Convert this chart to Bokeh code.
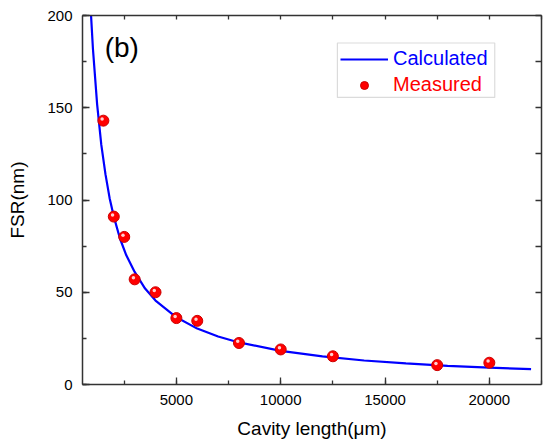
from bokeh.plotting import figure
from bokeh.models import (LinearAxis, SingleIntervalTicker, FixedTicker, Range1d, Legend, LegendItem,
                          BoxAnnotation, Label, ColumnDataSource)
from bokeh.transform import dodge
from bokeh.embed import file_html
from bokeh.resources import INLINE

# Calculated curve
calc_len = [900, 1000, 1200, 1400, 1600, 1800, 2000, 2300, 2600, 3000, 3500, 4000,
            5000, 6000, 7000, 8000, 10000, 12000, 14000, 16000, 18000, 20000, 22000]
calc_fsr = [202, 182, 152, 130, 114, 101, 91, 79, 70, 61, 52, 45.5,
            36.4, 30.3, 26, 22.8, 18.2, 15.2, 13, 11.4, 10.1, 9.1, 8.3]

# Measured points
meas_len = [1500, 2000, 2500, 3000, 4000, 5000, 6000, 8000, 10000, 12500, 17500, 20000]
meas_fsr = [143, 91, 80, 57, 50, 36, 34.5, 22.5, 19, 15.3, 10.5, 11.8]

x_lo, x_hi = 500, 22500
y_lo, y_hi = 0, 200
x_step = 5000
y_step = 50

FONT = "Liberation Sans"
AX = "#333333"

p = figure(frame_width=459, frame_height=369, output_backend="svg", toolbar_location=None,
           x_range=Range1d(x_lo, x_hi), y_range=Range1d(y_lo, y_hi),
           x_axis_type=None, y_axis_type=None,
           min_border_left=82, min_border_right=2, min_border_top=15, min_border_bottom=50)
p.outline_line_color = None
p.xgrid.visible = False
p.ygrid.visible = False
p.background_fill_color = "white"
p.border_fill_color = "white"

xt = SingleIntervalTicker(interval=x_step, num_minor_ticks=2)
yt = SingleIntervalTicker(interval=y_step, num_minor_ticks=2)
xt_top = FixedTicker(ticks=[], minor_ticks=list(range(x_lo + 2000, x_hi + 1, x_step // 2)))
yt_right = FixedTicker(ticks=[], minor_ticks=list(range(y_lo + y_step // 2, y_hi + 1, y_step // 2)))

def style(ax, maj=7, mnr=4):
    ax.axis_line_color = AX
    ax.axis_line_width = 1.5
    ax.major_tick_line_color = AX
    ax.minor_tick_line_color = AX
    ax.major_tick_line_width = 1.3
    ax.minor_tick_line_width = 1.3
    ax.major_tick_in = maj
    ax.major_tick_out = 0
    ax.minor_tick_in = mnr
    ax.minor_tick_out = 0
    ax.major_label_text_font = FONT
    ax.major_label_text_font_size = "15px"
    ax.major_label_text_color = "black"
    ax.axis_label_text_font = FONT
    ax.axis_label_text_font_size = "19px"
    ax.axis_label_text_font_style = "normal"
    ax.axis_label_text_color = "black"

xb = LinearAxis(ticker=xt, axis_label="Cavity length(\u03bcm)")
style(xb)
xb.major_label_standoff = 10
xb.axis_label_standoff = 10
p.add_layout(xb, "below")

yl = LinearAxis(ticker=yt, axis_label="FSR(nm)")
style(yl)
yl.major_label_standoff = 10
yl.axis_label_standoff = 16
p.add_layout(yl, "left")

xa = LinearAxis(ticker=xt_top)
style(xa, maj=4, mnr=4)
xa.major_label_standoff = 0
p.add_layout(xa, "above")

yr = LinearAxis(ticker=yt_right)
style(yr, maj=6, mnr=6)
yr.major_label_standoff = 0
p.add_layout(yr, "right")

src_c = ColumnDataSource(dict(x=calc_len, y=calc_fsr))
src_m = ColumnDataSource(dict(x=meas_len, y=meas_fsr))

line = p.line("x", "y", source=src_c, line_color="#0000ff", line_width=2.2)
pts = p.scatter("x", "y", source=src_m, marker="circle", size=11,
                fill_color="#ff0000", line_color="#cc0000", line_width=1)
p.scatter(dodge("x", -60, range=p.x_range), dodge("y", 0.9, range=p.y_range),
          source=src_m, marker="circle", size=3.5, fill_color="#ffd0d0", line_color=None)

# legend box
p.add_layout(BoxAnnotation(left=12718, right=20259, bottom=155.6, top=185.1,
                           fill_color=None, line_color="#888888", line_width=1.2))

def mk_leg(item, color, loc):
    lg = Legend(items=[item], location=loc, border_line_color=None,
                background_fill_alpha=0, padding=0, margin=0, spacing=0,
                glyph_width=48, glyph_height=20, label_height=20, label_standoff=5,
                label_text_font=FONT, label_text_font_size="20px", label_text_color=color)
    p.add_layout(lg, "center")

mk_leg(LegendItem(label="Calculated", renderers=[line]), "#0000ff", (258, 314))
mk_leg(LegendItem(label="Measured", renderers=[pts]), "#ff0000", (258, 288))

p.add_layout(Label(x=1563, y=191.3, text="(b)", text_font=FONT, text_font_size="28px",
                   text_baseline="top", text_color="black"))

open("out.html", "w").write(file_html(p, INLINE))
